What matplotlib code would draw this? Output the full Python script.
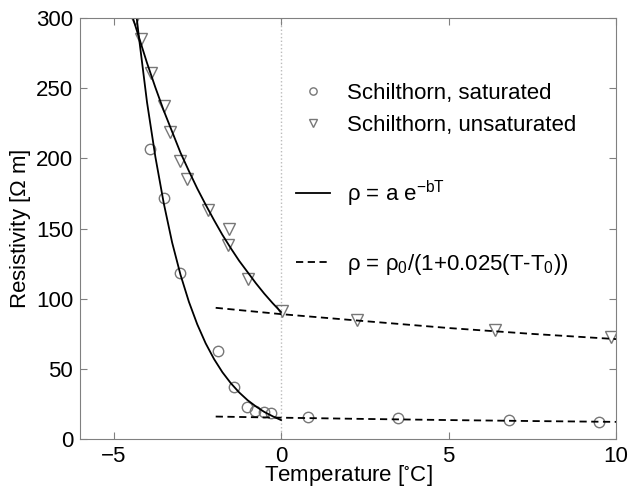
import matplotlib
matplotlib.use('Agg')
import matplotlib.pyplot as plt

plt.rcParams['font.family'] = ['Liberation Sans', 'DejaVu Sans']
plt.rcParams['mathtext.default'] = 'regular'

# measured points
t_sat = [-3.9, -3.5, -3.01, -1.88, -1.40, -1.01, -0.77, -0.51, -0.3, 0.8, 3.5, 6.8, 9.5]
rho_sat = [207, 172, 118, 63, 37, 23, 20, 19, 18.5, 16, 15, 13.5, 12]

t_unsat = [-4.35, -4.17, -3.88, -3.49, -3.31, -3.02, -2.8, -2.19, -1.56, -1.58, -0.99, 0.03, 2.27, 6.4, 9.85]
rho_unsat = [299, 285, 261, 237, 219, 198, 185, 163, 150, 138, 114, 91, 85, 78, 73]

# exponential fit curves
t_fit = [-4.5, -4.25, -4.0, -3.75, -3.5, -3.25, -3.0, -2.75, -2.5, -2.25, -2.0,
         -1.75, -1.5, -1.25, -1.0, -0.75, -0.5, -0.25, 0.0]
rho_fit_sat = [341, 288, 240, 201, 168, 140, 117, 97.8, 81.7, 68.2, 57,
               47.6, 39.8, 33.2, 27.7, 23.2, 19.3, 16.2, 13.5]
rho_fit_unsat = [306, 287, 268, 250.5, 234, 219, 204, 191, 178.5, 167, 156,
                 145.5, 136, 127, 119, 111, 103.6, 96.8, 90.5]

# linear temperature correction lines
t_lin = [-1.95, 0, 2.5, 5, 7.5, 10]
rho_lin_sat = [16.0, 15.2, 14.3, 13.5, 12.8, 12.2]
rho_lin_unsat = [93.5, 89, 84, 79.1, 74.9, 71.2]

fig = plt.figure(figsize=(6.28, 4.88), dpi=100)
ax = fig.add_axes([0.1274, 0.1004, 0.8536, 0.8626])

gray = '#777777'
ax.axvline(0, color='#bbbbbb', linestyle=':', linewidth=1, zorder=0)

h1, = ax.plot(t_sat, rho_sat, 'o', mfc='none', mec=gray, ms=7.5, mew=1)
h2, = ax.plot(t_unsat, rho_unsat, 'v', mfc='none', mec=gray, ms=8, mew=1)
h3, = ax.plot(t_fit, rho_fit_sat, '-', color='black', lw=1.3)
ax.plot(t_fit, rho_fit_unsat, '-', color='black', lw=1.3)
h4, = ax.plot(t_lin, rho_lin_sat, '--', color='black', lw=1.3, dashes=(4, 2.5))
ax.plot(t_lin, rho_lin_unsat, '--', color='black', lw=1.3, dashes=(4, 2.5))

blank, = ax.plot([], [], color='none')

ax.set_xlim(-6, 10)
ax.set_ylim(0, 300)
ax.set_xticks([-5, 0, 5, 10])
ax.set_yticks([0, 50, 100, 150, 200, 250, 300])

for s in ax.spines.values():
    s.set_color('#808080')
ax.tick_params(direction='in', length=5, color='#808080', labelsize=16,
               top=True, right=True, pad=5)

ax.set_xlabel(r'Temperature [$^{\circ}$C]', fontsize=16, labelpad=-3)
ax.set_ylabel(r'Resistivity [$\Omega$ m]', fontsize=16, labelpad=2)

leg = ax.legend([h1, h2, blank, h3, blank, h4],
                ['Schilthorn, saturated', 'Schilthorn, unsaturated', ' ',
                 r'$\rho$ = a e$^{-bT}$', ' ',
                 r'$\rho$ = $\rho_0$/(1+0.025(T-T$_0$))'],
                loc='upper left', bbox_to_anchor=(0.386, 0.868), frameon=False,
                fontsize=16, handlelength=1.53, handletextpad=0.77, labelspacing=0.5,
                markerscale=0.7, borderaxespad=0)

fig.savefig('out.png', dpi=100)
